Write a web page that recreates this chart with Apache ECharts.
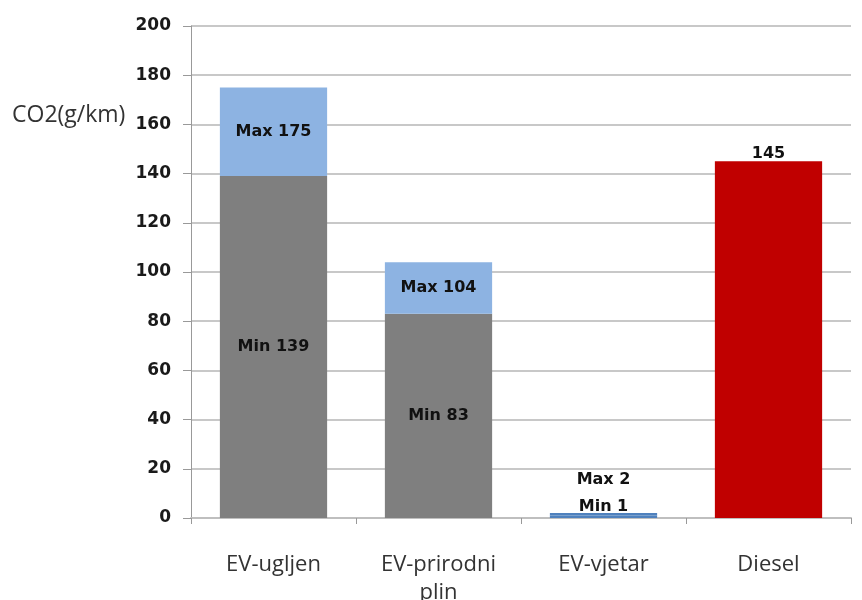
<!DOCTYPE html>
<html><head><meta charset="utf-8">
<script src="https://cdn.jsdelivr.net/npm/echarts@6/dist/echarts.min.js"></script>
<style>html,body{margin:0;padding:0;background:#fff}#c{width:862px;height:600px}</style>
</head><body><div id="c"></div>
<script>
const categories = ['EV-ugljen', 'EV-prirodni\nplin', 'EV-vjetar', 'Diesel'];
const minValues = [139, 83, 1, null];
const maxValues = [175, 104, 2, null];
const dieselValue = 145;
const yTicks = { min: 0, max: 200, interval: 20 };

const gray = '#7f7f7f', blue = '#8db3e2', red = '#c00000';
const valFont = { fontFamily: 'DejaVu Sans', fontWeight: 'bold', fontSize: 16, color: '#111' };

const baseData = categories.map((c, i) => {
  if (i === 3) {
    return { value: dieselValue, itemStyle: { color: red },
      label: Object.assign({ show: true, position: 'top', distance: -1, formatter: String(dieselValue) }, valFont) };
  }
  const item = { value: minValues[i],
    label: Object.assign({ show: true, position: 'inside', formatter: 'Min ' + minValues[i] }, valFont) };
  if (i === 2) {
    item.itemStyle = { color: '#4f81bd' };
    item.label = Object.assign({ show: true, position: 'top', distance: 1, formatter: 'Min ' + minValues[i] }, valFont);
  }
  return item;
});
const topData = categories.map((c, i) => {
  if (maxValues[i] == null) return '-';
  const item = { value: maxValues[i] - minValues[i],
    label: Object.assign({ show: true, position: 'inside', formatter: 'Max ' + maxValues[i] }, valFont) };
  if (i === 2) {
    item.itemStyle = { color: '#4f81bd' };
    item.label = Object.assign({ show: true, position: 'top', distance: 25, formatter: 'Max ' + maxValues[i] }, valFont);
  }
  return item;
});

const chart = echarts.init(document.getElementById('c'), null, { renderer: 'canvas' });
chart.setOption({
  animation: false,
  grid: { left: 191, right: 11, top: 26, bottom: 82, outerBoundsMode: 'none', containLabel: false },
  graphic: [{ type: 'text', left: 12, top: 104,
    style: { text: 'CO2(g/km)', font: '23px "Open Sans"', fill: '#333' } }],
  xAxis: {
    type: 'category', data: categories,
    axisLine: { lineStyle: { color: '#bfbfbf', width: 2 } },
    axisTick: { show: true, length: 6, lineStyle: { color: '#999' } },
    axisLabel: { fontFamily: 'Open Sans', fontSize: 22, color: '#333', margin: 33, lineHeight: 28 }
  },
  yAxis: {
    type: 'value', min: yTicks.min, max: yTicks.max, interval: yTicks.interval,
    axisLine: { show: true, lineStyle: { color: '#999' } },
    axisTick: { show: true, length: 8, lineStyle: { color: '#999' } },
    splitLine: { lineStyle: { color: '#c8c8c8', width: 2 } },
    axisLabel: { fontFamily: 'DejaVu Sans', fontWeight: 'bold', fontSize: 17, color: '#1a1a1a', margin: 20 }
  },
  series: [
    { type: 'bar', stack: 'a', barWidth: '65%', data: baseData, itemStyle: { color: gray } },
    { type: 'bar', stack: 'a', barWidth: '65%', data: topData, itemStyle: { color: blue } }
  ]
});
</script></body></html>
